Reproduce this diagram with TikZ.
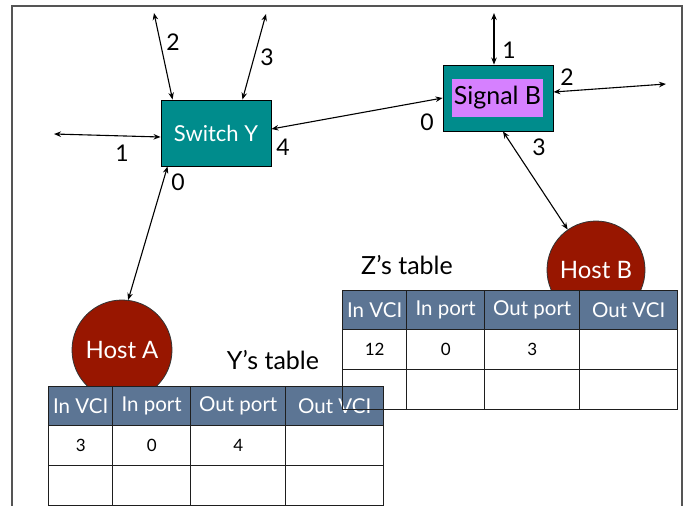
\documentclass[tikz,border=0pt]{standalone}
\usepackage{fontspec}
\setmainfont{Lato}
\usetikzlibrary{arrows.meta}
\definecolor{switchteal}{RGB}{0,140,140}
\definecolor{signalpink}{RGB}{214,128,255}
\definecolor{hostred}{RGB}{152,22,0}
\definecolor{hdrblue}{RGB}{92,117,148}
\definecolor{framegray}{RGB}{85,85,85}
\definecolor{tabline}{RGB}{30,30,30}

\tikzset{
  box/.style={draw=black, line width=0.9pt, fill=switchteal, minimum width=110, minimum height=66, inner sep=0pt},
  host/.style={circle, draw=black!80, line width=0.8pt, fill=hostred, minimum size=100, inner sep=0pt,
               text=white, font=\fontsize{24}{26}\selectfont},
  link/.style={line width=1.1pt, {Stealth[length=7pt,width=5.5pt]}-{Stealth[length=7pt,width=5.5pt]}},
  port/.style={inner sep=0pt, font=\fontsize{23}{25}\selectfont},
  title/.style={inner sep=0pt, font=\fontsize{25}{27}\selectfont},
  hdr/.style={draw=tabline, line width=1.4pt, fill=hdrblue, text=white, minimum height=39,
              inner sep=0pt, anchor=north west, font=\fontsize{20.5}{22}\selectfont},
  cellY/.style={draw=tabline, line width=1.4pt, fill=white, minimum height=40,
              inner sep=0pt, anchor=north west, font=\fontsize{17}{19}\selectfont},
  cellZ/.style={draw=tabline, line width=1.4pt, minimum height=40,
              inner sep=0pt, anchor=north west, font=\fontsize{17}{19}\selectfont},
}

% VCI table: #1 name prefix, #2 left x, #3 top y, #4 body cell style, #5-#7 first row values
\newcommand\vcitable[7]{%
  \foreach \cx/\w/\t [count=\i] in {0/64/In VCI,64/78/In port,142/95/Out port,237/98/Out VCI}
    \node[hdr, minimum width=\w] (#1-h\i) at (#2+\cx,#3) {\t};
  \foreach \cx/\w/\t [count=\i] in {0/64/#5,64/78/#6,142/95/#7,237/98/{}}
    \node[#4, minimum width=\w] (#1-a\i) at (#2+\cx,#3+39) {\t};
  \foreach \cx/\w [count=\i] in {0/64,64/78,142/95,237/98}
    \node[#4, minimum width=\w] (#1-b\i) at (#2+\cx,#3+79) {};
}

\begin{document}
\begin{tikzpicture}[x=1pt,y=-1pt]
\useasboundingbox (0,0) rectangle (689,506);

% slide frame
\draw[framegray, line width=1.3pt] (12,506) -- (12,6) -- (682,6) -- (682,506);

% switches
\node[box, text=white, font=\fontsize{22}{24}\selectfont] (swY) at (216,133) {Switch Y};
\node[box] (sigB) at (498,98) {};
\node[fill=signalpink, minimum width=91, minimum height=38, inner sep=0pt,
      font=\fontsize{25}{27}\selectfont] (sigBlabel) at (497.5,98) {Signal B};

% hosts
\node[host] (hostA) at (122,350) {Host A};
\node[host, minimum size=98] (hostB) at (596,270) {Host B};

% free ends of the links
\coordinate (y1) at (54,134);
\coordinate (y2) at (154,13);
\coordinate (y3) at (266,14);
\coordinate (b1) at (494,13);
\coordinate (b2) at (666,84);

% links
\draw[link] (y1) -- ([yshift=-4pt]swY.west);
\draw[link] (y2) -- ([xshift=12pt]swY.north west);
\draw[link] (y3) -- ([xshift=-29pt]swY.north east);
\draw[link] ([yshift=4pt]swY.east) -- (sigB.west);
\draw[link] (hostA.83) -- ([xshift=7pt]swY.south west);
\draw[link] (b1) -- ([xshift=-4pt]sigB.north);
\draw[link] (b2) -- ([yshift=6pt]sigB.east);
\draw[link] ([xshift=5pt]sigB.south) -- (hostB.125);

% port numbers
\node[port] (pY1) at (122,153) {1};
\node[port] (pY2) at (173,42) {2};
\node[port] (pY3) at (267,57) {3};
\node[port] (pY4) at (283,147) {4};
\node[port] (pY0) at (178,182) {0};
\node[port] (pB1) at (509,50) {1};
\node[port] (pB2) at (567,77) {2};
\node[port] (pB0) at (427,122) {0};
\node[port] (pB3) at (539,147) {3};

% forwarding tables
\node[title] (ytitle) at (273,360) {Y’s table};
\vcitable{ytab}{48}{386}{cellY}{3}{0}{4}
\node[title] (ztitle) at (407,265) {Z’s table};
\vcitable{ztab}{342}{290}{cellZ}{12}{0}{3}
\end{tikzpicture}
\end{document}
